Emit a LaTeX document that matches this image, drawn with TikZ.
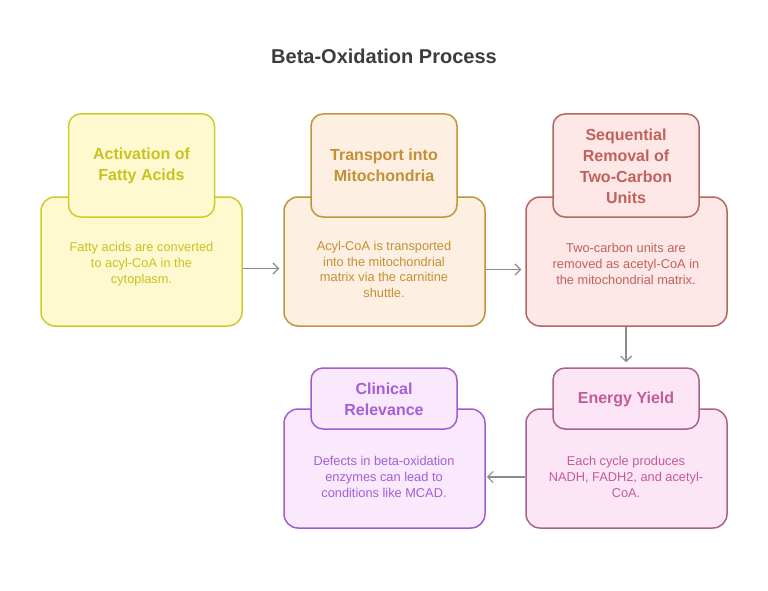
\documentclass[tikz,border=0pt]{standalone}
\usepackage{fontspec}
\setmainfont{Liberation Sans}
\usetikzlibrary{arrows.meta}
\definecolor{ylwline}{HTML}{CFCB2E}
\definecolor{ylwfill}{HTML}{FEF9CE}
\definecolor{ylwtext}{HTML}{C9C322}
\definecolor{orgline}{HTML}{C0953E}
\definecolor{orgfill}{HTML}{FDEFE2}
\definecolor{orgtext}{HTML}{C48F35}
\definecolor{redline}{HTML}{B4665F}
\definecolor{redfill}{HTML}{FDE7E7}
\definecolor{redtext}{HTML}{C0615B}
\definecolor{pnkline}{HTML}{A8628F}
\definecolor{pnkfill}{HTML}{FCE6F5}
\definecolor{pnktext}{HTML}{C45A9A}
\definecolor{prpline}{HTML}{9F5DD0}
\definecolor{prpfill}{HTML}{FAE8FC}
\definecolor{prptext}{HTML}{A45ED6}
\definecolor{arrgray}{HTML}{8C8C8C}
\definecolor{ttlgray}{HTML}{3D3D3D}
\tikzset{
  body/.style={draw=#1line,fill=#1fill,line width=1.5pt,rounded corners=14pt,minimum width=201pt,inner sep=0pt},
  head/.style={draw=#1line,fill=#1fill,line width=1.5pt,rounded corners=12pt,minimum width=146pt,inner sep=0pt},
  headtxt/.style={text=#1text,font=\fontsize{16}{21}\selectfont\bfseries,align=center},
  bodytxt/.style={text=#1text,font=\fontsize{12.8}{15.7}\selectfont,align=center},
  flow/.style={draw=arrgray,line width=1.2pt,-{Straight Barb[length=5.5pt,width=11pt]}}
}
\begin{document}
\begin{tikzpicture}[x=1pt,y=-1pt]
  \useasboundingbox[fill=white] (0,0) rectangle (768,591);
  \node[text=ttlgray,font=\fontsize{20}{24}\selectfont\bfseries] (title) at (384,56) {Beta-Oxidation Process};

  \node[body=ylw,minimum height=129pt] (b1) at (141.5,261.5) {};
  \node[head=ylw,minimum height=103pt] (h1) at (141.5,165.5) {};
  \node[headtxt=ylw] (h1t) at (141.5,165.5) {Activation of\\Fatty Acids};
  \node[bodytxt=ylw] (b1t) at (141.5,264) {Fatty acids are converted\\to acyl-CoA in the\\cytoplasm.};

  \node[body=org,minimum height=129pt] (b2) at (384.5,261.5) {};
  \node[head=org,minimum height=103pt] (h2) at (384,165.5) {};
  \node[headtxt=org] (h2t) at (384,165.5) {Transport into\\Mitochondria};
  \node[bodytxt=org] (b2t) at (384,269.5) {Acyl-CoA is transported\\into the mitochondrial\\matrix via the carnitine\\shuttle.};

  \node[body=red,minimum height=129pt] (b3) at (626.5,261.5) {};
  \node[head=red,minimum height=103pt] (h3) at (626,165.5) {};
  \node[headtxt=red] (h3t) at (626,166) {Sequential\\Removal of\\Two-Carbon\\Units};
  \node[bodytxt=red] (b3t) at (626,264) {Two-carbon units are\\removed as acetyl-CoA in\\the mitochondrial matrix.};

  \node[body=prp,minimum height=119pt] (b4) at (384.5,468.5) {};
  \node[head=prp,minimum height=61pt] (h4) at (384,398.5) {};
  \node[headtxt=prp] (h4t) at (384,399) {Clinical\\Relevance};
  \node[bodytxt=prp] (b4t) at (384,477) {Defects in beta-oxidation\\enzymes can lead to\\conditions like MCAD.};

  \node[body=pnk,minimum height=119pt] (b5) at (626.5,468.5) {};
  \node[head=pnk,minimum height=61pt] (h5) at (626,398.5) {};
  \node[headtxt=pnk] (h5t) at (626,399) {Energy Yield};
  \node[bodytxt=pnk] (b5t) at (626,477) {Each cycle produces\\NADH, FADH2, and acetyl-\\CoA.};

  \draw[flow,shorten >=4pt] ([yshift=-7pt]b1.east) -- ([yshift=-7pt]b2.west);
  \draw[flow,shorten >=4pt] ([yshift=-8pt]b2.east) -- ([yshift=-8pt]b3.west);
  \draw[flow,shorten >=5pt] ([xshift=-0.5pt]b3.south) -- (h5.north);
  \draw[flow,shorten >=1pt] ([yshift=-8.5pt]b5.west) -- ([yshift=-8.5pt]b4.east);
\end{tikzpicture}
\end{document}
